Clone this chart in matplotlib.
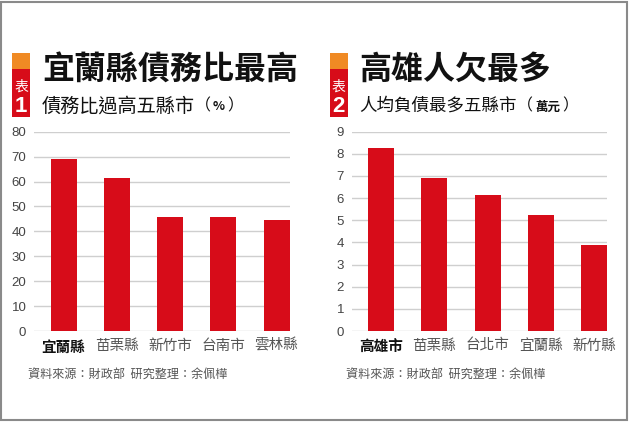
import matplotlib
matplotlib.use('Agg')
import matplotlib.pyplot as plt
from matplotlib.patches import Rectangle

plt.rcParams['font.family'] = ['Noto Sans CJK TC', 'DejaVu Sans']

# data
left_labels = ['宜蘭縣', '苗栗縣', '新竹市', '台南市', '雲林縣']
left_values = [69.1, 61.6, 45.7, 45.7, 44.6]
left_ticks = [0, 10, 20, 30, 40, 50, 60, 70, 80]

right_labels = ['高雄市', '苗栗縣', '台北市', '宜蘭縣', '新竹縣']
right_values = [8.25, 6.9, 6.14, 5.24, 3.88]
right_ticks = [0, 1, 2, 3, 4, 5, 6, 7, 8, 9]

W, H = 630, 422
RED = '#d70c19'
ORANGE = '#f08a24'

fig = plt.figure(figsize=(W / 100, H / 100), dpi=100)


def px(x, y):
    # pixel coords (from top-left) -> figure fraction
    return x / W, 1 - y / H


def box(x0, y0, w, h, color):
    fx, fy = px(x0, y0 + h)
    fig.patches.append(Rectangle((fx, fy), w / W, h / H, transform=fig.transFigure,
                                 facecolor=color, edgecolor='none'))


def text_after(prev, s, y, gap=0, **kw):
    # place a text right after the previous one
    fig.canvas.draw()
    bb = prev.get_window_extent()
    return fig.text((bb.x1 + gap) / W, 1 - y / H, s, ha='left', va='center', **kw)


def panel(x0, x1, labels, values, ticks, num, title, subtitle, unit, subsize):
    top, bottom = 131.7, 331
    fx, fy = px(x0, bottom)
    ax = fig.add_axes([fx, fy, (x1 - x0) / W, (bottom - top) / H])
    ax.bar(range(len(values)), values, width=0.49, color=RED, zorder=3)
    ax.set_xlim(-0.555, len(values) - 0.75)
    ax.set_ylim(ticks[0], ticks[-1])
    ax.set_yticks(ticks)
    ax.set_xticks(range(len(labels)))
    ax.set_xticklabels(labels)
    ax.grid(axis='y', color='#cfcfcf', linewidth=1.0, zorder=0)
    ax.set_axisbelow(True)
    for s in ax.spines.values():
        s.set_visible(False)
    ax.tick_params(axis='y', length=0, pad=5.5, labelsize=9.5, labelcolor='#444444')
    ax.tick_params(axis='x', length=0, pad=5.5, labelsize=10.5, labelcolor='#555555')
    for lab in ax.get_yticklabels():
        lab.set_fontfamily(['Liberation Sans', 'DejaVu Sans'])
    first = ax.get_xticklabels()[0]
    first.set_fontweight('bold')
    first.set_color('#111111')

    # header block
    bx = x0 - 22
    box(bx, 53, 18, 16, ORANGE)
    box(bx, 69, 18, 48, RED)
    fig.text(*px(bx + 9, 87), '表', color='white', fontsize=10, ha='center', va='center')
    fig.text(*px(bx + 9, 106.5), num, color='white', fontsize=16, fontweight='bold',
             ha='center', va='center', fontfamily=['Liberation Sans', 'DejaVu Sans'])
    fig.text(*px(x0 + 8, 70), title, fontsize=23, fontweight='bold', color='#111111',
             ha='left', va='center')
    t = fig.text(*px(x0 + 8, 106), subtitle, fontsize=subsize, fontweight='medium',
                 color='#111111', ha='left', va='center')
    t = text_after(t, '（', 106, gap=0, fontsize=11.5, color='#111111')
    t = text_after(t, unit, 107, gap=2, fontsize=9, fontweight='bold', color='#111111')
    text_after(t, '）', 106, gap=2, fontsize=11.5, color='#111111')

    fig.text(*px(x0 - 6, 375), '資料來源：財政部  研究整理：余佩樺', fontsize=8.7,
             color='#555555', ha='left', va='center')
    return ax


panel(34, 290, left_labels, left_values, left_ticks, '1',
      '宜蘭縣債務比最高', '債務比過高五縣市', '%', 13.8)
panel(351.7, 607.3, right_labels, right_values, right_ticks, '2',
      '高雄人欠最多', '人均負債最多五縣市', '萬元', 12.6)

# outer frame
fig.patches.append(Rectangle((0.002, 0.004), 0.994, 0.992, transform=fig.transFigure,
                             facecolor='none', edgecolor='#8a8a8a', linewidth=1.5))

fig.savefig('out.png', dpi=100, facecolor='white')
